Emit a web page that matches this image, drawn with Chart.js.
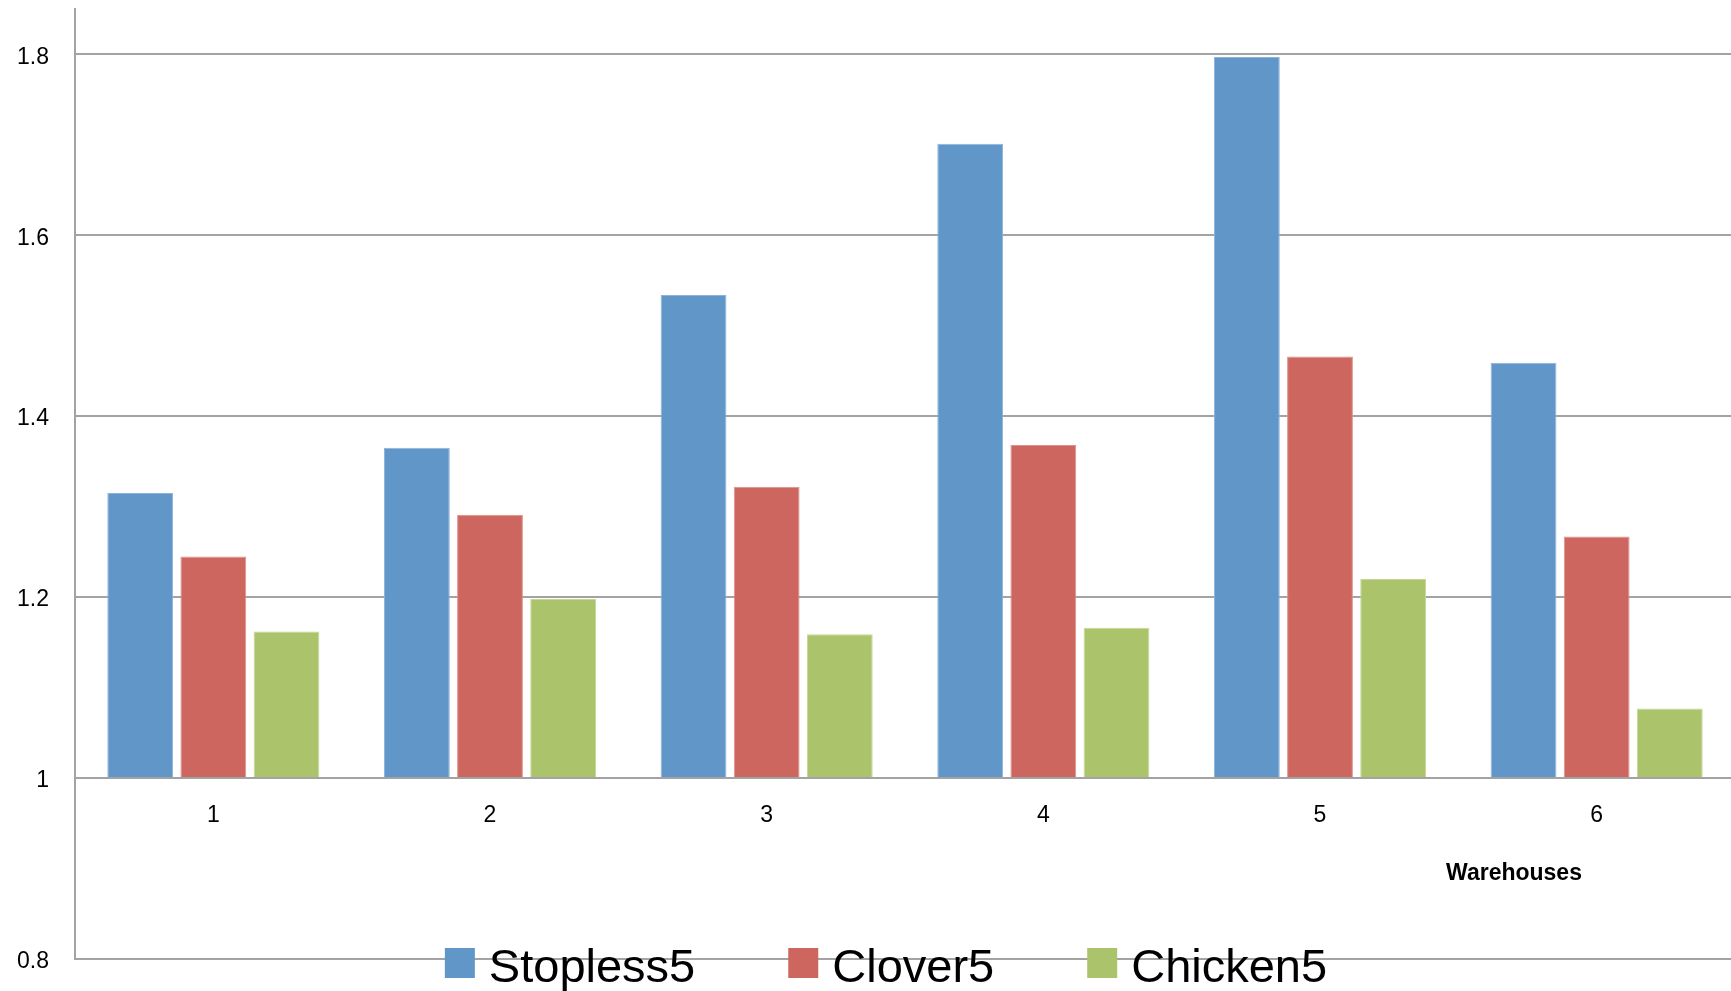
<!DOCTYPE html>
<html>
<head>
<meta charset="utf-8">
<title>Warehouses</title>
<script src="https://cdn.jsdelivr.net/npm/chart.js@4.4.1/dist/chart.umd.min.js"></script>
<style>
  html, body { margin: 0; padding: 0; background: #ffffff; overflow: hidden; }
  canvas { display: block; }
</style>
</head>
<body>
<canvas id="chart" width="1735" height="991"></canvas>
<script>
// Category labels (warehouse number) and one value list per series
const warehouses = ['1', '2', '3', '4', '5', '6'];
const stopless5 = [1.315, 1.365, 1.534, 1.701, 1.797, 1.459];
const clover5   = [1.245, 1.291, 1.322, 1.368, 1.466, 1.267];
const chicken5  = [1.162, 1.198, 1.159, 1.166, 1.220, 1.077];
const seriesNames = ['Stopless5', 'Clover5', 'Chicken5'];
const yTickValues = [0.8, 1, 1.2, 1.4, 1.6, 1.8];
const xAxisTitle = 'Warehouses';

const FONT = '"Liberation Sans", Arial, sans-serif';
const GRID = '#A3A3A3';

// Legend drawn in a single row across the bottom gridline
const bottomLegend = {
  id: 'bottomLegend',
  afterDraw(chart) {
    const { ctx, chartArea } = chart;
    const box = 30, gap = 14, spacing = 93;
    ctx.save();
    ctx.font = '47px ' + FONT;
    const items = chart.data.datasets.map(ds => ({
      label: ds.label,
      color: ds.backgroundColor,
      w: ctx.measureText(ds.label).width
    }));
    const total = items.reduce((s, it) => s + box + gap + it.w, 0) + spacing * (items.length - 1);
    let x = 886 - total / 2;
    const boxTop = chartArea.bottom - 11;
    const baseline = chartArea.bottom + 23;
    ctx.textBaseline = 'alphabetic';
    ctx.textAlign = 'left';
    items.forEach(it => {
      ctx.fillStyle = it.color;
      ctx.fillRect(x, boxTop, box, box);
      x += box + gap;
      ctx.fillStyle = '#000000';
      ctx.fillText(it.label, x, baseline);
      x += it.w + spacing;
    });
    ctx.restore();
  }
};

// Axis title placed under the category labels, toward the right
const categoryTitle = {
  id: 'categoryTitle',
  afterDraw(chart) {
    const { ctx, chartArea } = chart;
    ctx.save();
    ctx.font = 'bold 23px ' + FONT;
    ctx.fillStyle = '#000000';
    ctx.textAlign = 'center';
    ctx.textBaseline = 'alphabetic';
    ctx.fillText(xAxisTitle, chartArea.right - 221, 880);
    ctx.restore();
  }
};

const colors = ['#6196C9', '#CD665F', '#ABC46C'];
const edges  = ['#8DB3DB', '#DC908A', '#C5D797'];
const values = [stopless5, clover5, chicken5];

new Chart(document.getElementById('chart'), {
  type: 'bar',
  data: {
    labels: warehouses,
    datasets: seriesNames.map((name, i) => ({
      label: name,
      data: values[i],
      base: 1,
      backgroundColor: colors[i],
      borderColor: edges[i],
      borderWidth: 1,
      categoryPercentage: 0.793,
      barPercentage: 0.9
    }))
  },
  options: {
    responsive: false,
    animation: false,
    devicePixelRatio: 1,
    layout: { padding: { top: 9, right: 0, bottom: 32, left: 0 } },
    plugins: {
      legend: { display: false },
      tooltip: { enabled: false }
    },
    scales: {
      x: {
        position: { y: 1 },
        grid: { display: true, drawOnChartArea: false, drawTicks: false },
        border: { display: true, color: GRID, width: 2 },
        ticks: {
          color: '#000000',
          padding: 24,
          font: { family: FONT, size: 23 }
        },
        afterFit(scale) {
          scale.paddingLeft = 0;
          scale.paddingRight = 0;
        }
      },
      y: {
        min: 0.8,
        max: 1.85,
        grid: { color: GRID, lineWidth: 2, drawTicks: false },
        border: { display: true, color: GRID, width: 2 },
        ticks: {
          color: '#000000',
          padding: 26,
          labelOffset: 3,
          font: { family: FONT, size: 23 },
          callback: v => String(+Number(v).toFixed(1))
        },
        afterBuildTicks(scale) {
          scale.ticks = yTickValues.map(v => ({ value: v }));
        },
        afterFit(scale) {
          scale.width = 75;
          scale.paddingTop = 0;
          scale.paddingBottom = 0;
        }
      }
    }
  },
  plugins: [bottomLegend, categoryTitle]
});
</script>
</body>
</html>
